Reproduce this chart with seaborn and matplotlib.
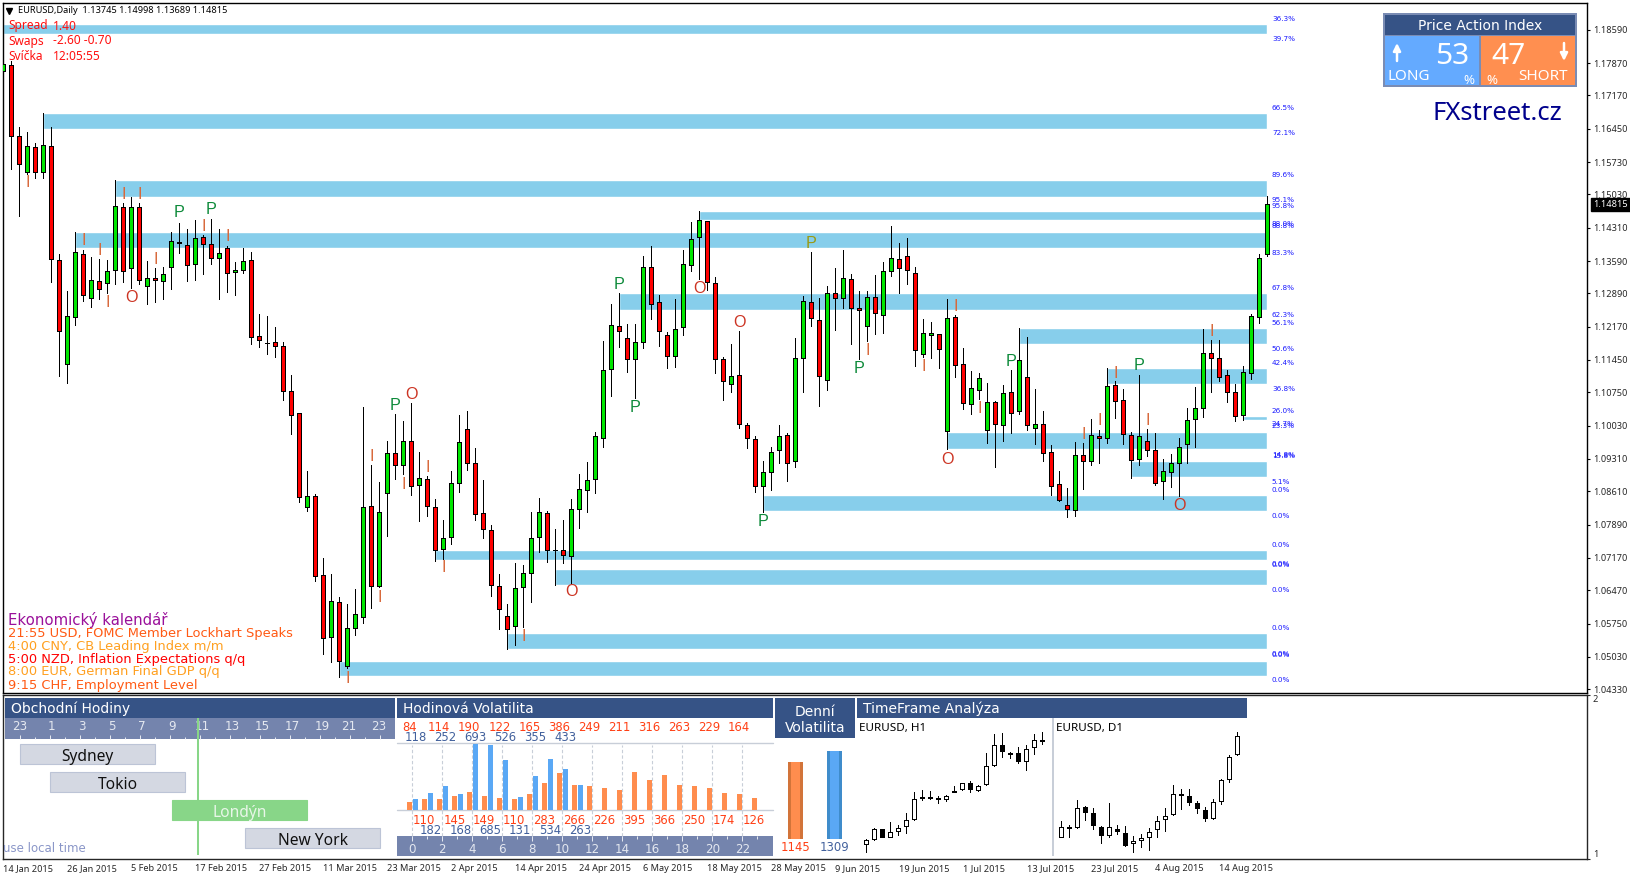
#-----------------------------------------------------------------
# Required Python Packages
#-----------------------------------------------------------------
import matplotlib
matplotlib.use("Agg")
import matplotlib.pyplot as plt
from matplotlib.patches import Rectangle
import pandas as pd
import seaborn as sns

#-----------------------------------------------------------------
# Main chart data : EURUSD daily candles (pips)
#-----------------------------------------------------------------
OPEN_PIPS = [
    11769,11783,11629,11551,11605,11551,11608,11361,11137,11238,
    11374,11279,11316,11312,11340,11476,11344,11476,11305,11322,
    11316,11346,11398,11394,11353,11411,11396,11366,11387,11335,
    11340,11361,11197,11182,11184,11175,11078,11030,10827,10851,
    10680,10546,10622,10483,10565,10589,10829,10656,10857,10943,
    10917,10969,10874,10887,10827,10736,10762,10879,10995,10922,
    10814,10777,10656,10591,10570,10654,10684,10762,10814,10734,
    10734,10721,10823,10864,10887,10976,11126,11219,11193,11147,
    11184,11346,11271,11199,11154,11217,11351,11411,11445,11312,
    11147,11094,11113,11004,10974,10872,10903,10950,10982,10926,
    11149,11271,11232,11102,11290,11279,11320,11258,11219,11281,
    11242,11338,11363,11370,11333,11158,11199,11201,10991,11238,
    11137,11050,11080,10993,11054,11004,11076,11034,11109,10997,
    11006,10945,10876,10831,10820,10939,10926,10980,10976,11091,
    11058,10982,10930,10969,10950,10883,10903,10922,10963,11017,
    11041,11160,11149,11113,11076,11026,11117,11238,11374]
HIGH_PIPS = [
    11845,11791,11649,11638,11614,11679,11649,11374,11294,11422,
    11383,11368,11363,11361,11534,11485,11497,11485,11359,11344,
    11346,11422,11441,11428,11448,11415,11450,11428,11392,11357,
    11387,11379,11245,11240,11217,11184,11113,11030,10905,10855,
    10717,10682,10632,10617,10650,11043,10917,10881,10969,11028,
    11013,11052,10947,10894,10844,10799,10905,11026,11034,10954,
    10885,10788,10682,10617,10706,10702,10816,10846,10818,10779,
    10799,10844,10899,10924,10989,11186,11266,11290,11223,11223,
    11370,11392,11285,11206,11277,11383,11443,11467,11445,11324,
    11152,11180,11208,11008,10980,10926,10956,11004,10987,11193,
    11283,11379,11279,11305,11344,11383,11331,11294,11294,11329,
    11357,11435,11398,11409,11346,11233,11227,11201,11277,11242,
    11171,11121,11117,11096,11056,11091,11124,11214,11195,11082,
    11034,10961,10905,10868,10967,10965,11017,10993,11128,11099,
    11082,10989,11113,10995,10987,10932,10941,10976,11041,11087,
    11212,11189,11189,11124,11094,11132,11245,11374,11500]
LOW_PIPS = [
    11724,11558,11456,11547,11538,11538,11314,11111,11096,11221,
    11273,11260,11277,11290,11310,11314,11301,11310,11266,11271,
    11277,11299,11376,11316,11318,11331,11353,11277,11292,11285,
    11333,11180,11173,11158,11152,11058,10984,10838,10818,10667,
    10509,10492,10460,10479,10550,10576,10609,10654,10764,10887,
    10899,10853,10797,10807,10710,10714,10747,10859,10907,10799,
    10760,10634,10563,10520,10529,10568,10622,10730,10708,10658,
    10706,10663,10782,10816,10857,10956,11067,11173,11119,11063,
    11171,11233,11175,11128,11130,11199,11338,11320,11296,11117,
    11058,11076,10997,10954,10859,10816,10864,10922,10883,10913,
    11076,11219,11045,11080,11210,11258,11180,11147,11186,11201,
    11203,11327,11290,11310,11132,11152,11149,11128,10952,11109,
    11039,11028,11061,10965,10913,10969,10987,11028,10993,10963,
    10926,10853,10840,10805,10807,10866,10917,10922,10965,11019,
    10963,10889,10917,10937,10874,10844,10870,10851,10922,10956,
    11021,11076,11099,11054,11013,11015,11104,11225,11369]
CLOSE_PIPS = [
    11785,11629,11569,11608,11551,11610,11363,11208,11240,11379,
    11285,11318,11299,11338,11478,11338,11476,11318,11322,11318,
    11331,11402,11400,11351,11409,11396,11366,11376,11333,11340,
    11359,11195,11189,11182,11175,11078,11026,10848,10851,10678,
    10544,10624,10494,10565,10596,10827,10656,10816,10943,10917,
    10969,10872,10889,10829,10734,10760,10879,10967,10922,10812,
    10779,10658,10607,10563,10652,10684,10760,10816,10734,10734,
    10723,10823,10866,10885,10980,11124,11221,11208,11147,11184,
    11346,11266,11208,11154,11212,11353,11407,11448,11314,11147,
    11099,11111,11006,10976,10872,10903,10945,10980,10922,11149,
    11273,11236,11111,11290,11279,11322,11258,11253,11281,11247,
    11338,11366,11344,11340,11167,11203,11203,11169,11236,11134,
    11052,11084,11106,11054,11006,11074,11030,11145,11004,11006,
    10943,10872,10842,10823,10939,10926,10982,10976,11089,11056,
    10984,10928,10980,10950,10879,10905,10922,10956,11015,11041,
    11160,11149,11109,11076,11024,11119,11240,11366,11482]

PRICE_TICKS = [1.18590,1.17870,1.17170,1.16450,1.15730,1.15030,1.14310,
               1.13590,1.12890,1.12170,1.11450,1.10750,1.10030,1.09310,
               1.08610,1.07890,1.07170,1.06470,1.05750,1.05030,1.04330]
LAST_PRICE = 1.14815

DATE_LABELS = ["14 Jan 2015","26 Jan 2015","5 Feb 2015","17 Feb 2015","27 Feb 2015",
               "11 Mar 2015","23 Mar 2015","2 Apr 2015","14 Apr 2015","24 Apr 2015",
               "6 May 2015","18 May 2015","28 May 2015","9 Jun 2015","19 Jun 2015",
               "1 Jul 2015","13 Jul 2015","23 Jul 2015","4 Aug 2015","14 Aug 2015"]

# Supply / demand zones : first candle, upper and lower price
ZONE_START = [0,5,14,9,87,77,127,138,155,118,141,95,54,69,63,42]
ZONE_TOP = [11871,11679,11534,11422,11467,11290,11214,11128,
            11024,10989,10926,10853,10734,10693,10555,10494]
ZONE_BOTTOM = [11850,11644,11497,11387,11448,11253,11180,11094,
               11015,10952,10892,10818,10712,10658,10520,10461]

ZONE_PCT_TEXT = ["36.3%","39.7%","66.5%","72.1%","89.6%","95.1%","95.8%","88.0%","88.8%",
                 "83.3%","67.8%","62.3%","56.1%","50.6%","42.4%","36.8%","26.0%","24.7%",
                 "23.3%","14.8%","15.8%","5.1%","0.0%","0.0%","0.0%","0.0%","0.0%","0.0%",
                 "0.0%","0.0%","0.0%","0.0%"]
ZONE_PCT_PIPS = [11882,11839,11690,11635,11546,11491,11478,11438,11435,
                 11376,11301,11242,11225,11169,11139,11082,11034,11006,
                 11002,10939,10937,10881,10864,10807,10745,10704,10702,10648,
                 10565,10509,10507,10453]

# Price action letters : kind, candle, price
MARK_KIND = ["I","I","I","P","P","I","I","I","I","I","I","O",
             "P","O","I","I","I","I","I","I","O","I",
             "P","P","O","O","P","P",
             "I","I","P","I","P","O","I","I","P","I","I","I","O","I"]
MARK_CANDLE = [3,15,17,22,26,25,28,10,12,19,13,16,
               49,51,46,50,47,43,53,55,71,65,
               77,79,87,92,95,101,
               119,108,107,115,126,118,122,139,142,143,137,135,147,151]
MARK_PIPS = [11531,11506,11506,11467,11473,11437,11415,11407,11385,11366,11273,11283,
             11050,11074,10939,10879,10634,10460,10915,10700,10648,10550,
             11312,11045,11303,11229,10799,11400,
             11264,11169,11130,11134,11145,10932,11043,11119,11137,11017,11017,10987,10834,11210]
OLIVE_MARKS = [101]

#-----------------------------------------------------------------
# Hourly and daily volatility
#-----------------------------------------------------------------
HOUR_DOWN = [84,110,114,145,190,149,122,110,165,283,386,266,
             249,226,211,395,316,366,263,250,229,174,164,126]
HOUR_UP = [118,182,252,168,693,685,526,131,355,534,433,263]
DAY_NAMES = ["down","up"]
DAY_VALUES = [1145,1309]

#-----------------------------------------------------------------
# Trading sessions : hours counted from the 23 on the clock strip
#-----------------------------------------------------------------
SESSION_NAMES = ["Sydney","Tokio","Londýn","New York"]
SESSION_START = [0,2,10.13,15]
SESSION_LENGTH = [9,9,9,9]
CURRENT_HOUR = 11.87
CLOCK_LABELS = ["23","1","3","5","7","9","11","13","15","17","19","21","23"]
CLOCK_SPOTS = [0,2.13,4.13,6.13,8.13,10.13,12.13,14.13,16.13,18.13,20.13,21.93,23.93]

#-----------------------------------------------------------------
# Small H1 and D1 candle charts, relative levels
#-----------------------------------------------------------------
H1_OPEN = [37,52,82,58,76,91,112,178,178,175,174,196,202,220,201,217,274,334,310,310,286,328,349]
H1_HIGH = [52,85,82,104,95,130,194,199,196,181,184,211,220,226,214,310,367,371,314,328,334,367,373]
H1_LOW = [14,51,58,58,65,71,111,169,174,161,168,193,199,195,196,216,273,299,296,282,260,308,339]
H1_CLOSE = [49,82,58,73,86,109,172,175,175,172,183,193,220,204,211,271,334,316,307,288,322,349,346]

D1_OPEN = [60,88,88,148,130,88,64,82,70,40,49,58,82,112,127,187,181,160,139,115,166,232,307]
D1_HIGH = [107,94,169,151,145,91,160,94,92,61,67,85,121,145,214,202,202,166,148,172,232,304,373]
D1_LOW = [58,60,85,110,84,41,58,67,33,14,30,20,59,77,125,143,156,131,108,113,159,225,304]
D1_CLOSE = [88,85,145,133,94,64,88,76,34,46,55,73,106,121,187,184,163,145,115,163,229,298,361]

#-----------------------------------------------------------------
# Colours and fonts
#-----------------------------------------------------------------
NAVY = "#365386"
STRIP = "#7484ad"
ZONE_BLUE = "#87ceeb"
BAR_ORANGE = "#ff8d4e"
BAR_ORANGE_DARK = "#d2743a"
BAR_BLUE = "#5aa8f5"
BAR_BLUE_DARK = "#3f8ccb"
LABEL_ORANGE = "#ff3f14"
LABEL_BLUE = "#41609c"
SESSION_GREY = "#d4d8e2"
SESSION_EDGE = "#bcc4d6"
SESSION_GREEN = "#88d688"
GRID_GREY = "#c8ced8"
MARK_COLORS = {"P": "#0d8a3a", "O": "#cc3322", "I": "#d8683a"}

UI_FONT = "Noto Sans"
WIDE_FONT = "DejaVu Sans"

FIG_W = 1630
FIG_H = 877

# Candle 0 sits 3.3 px from the left, one candle every 8 px
CANDLE_STEP = 8.0
CANDLE_ZERO = 3.3


#-----------------------------------------------------------------
# Function Name : pixel_axes
# Description   : Add an axes given its pixel box in the picture
#-----------------------------------------------------------------
def pixel_axes(fig, left, top, right, bottom, zorder=1):
    ax = fig.add_axes([left / FIG_W, 1 - bottom / FIG_H,
                       (right - left) / FIG_W, (bottom - top) / FIG_H], zorder=zorder)
    return ax


#-----------------------------------------------------------------
# Function Name : candle_frame
# Description   : Build a table of candles from four plain lists
#-----------------------------------------------------------------
def candle_frame(opens, highs, lows, closes, scale=1.0):
    return pd.DataFrame({"open": opens, "high": highs, "low": lows, "close": closes}) / scale


#-----------------------------------------------------------------
# Function Name : draw_candles
# Description   : Wicks and bodies, sharp edged like the terminal
#-----------------------------------------------------------------
def draw_candles(ax, frame, up_color, down_color):
    ax.vlines(frame.index, frame["low"], frame["high"], color="black",
              linewidth=0.72, antialiased=False, zorder=3)
    rising = frame["close"] >= frame["open"]
    colors = [up_color if r else down_color for r in rising]
    ax.bar(frame.index, (frame["close"] - frame["open"]).abs(),
           bottom=frame[["open", "close"]].min(axis=1), width=0.5, color=colors,
           edgecolor="black", linewidth=0.7, antialiased=False, zorder=4)


#-----------------------------------------------------------------
# Function Name : draw_main_chart
#-----------------------------------------------------------------
def draw_main_chart(fig):
    ax = pixel_axes(fig, 3, 3, 1587, 693.3)
    candles = candle_frame(OPEN_PIPS, HIGH_PIPS, LOW_PIPS, CLOSE_PIPS, 10000.0)

    last_candle = len(candles) - 1
    for start, top, bottom in zip(ZONE_START, ZONE_TOP, ZONE_BOTTOM):
        ax.barh(bottom / 10000.0, last_candle - start, height=(top - bottom) / 10000.0,
                left=start, align="edge", color=ZONE_BLUE, zorder=1)

    draw_candles(ax, candles, "#00e600", "#ff0000")

    for kind, candle, pips in zip(MARK_KIND, MARK_CANDLE, MARK_PIPS):
        color = "#9a9a14" if candle in OLIVE_MARKS else MARK_COLORS[kind]
        # Letters hang about a pixel under the centre of their box
        ax.text(candle, (pips - 3) / 10000.0, kind, color=color, family="Liberation Sans",
                fontsize=11.6, ha="center", va="center", zorder=5)

    for label, pips in zip(ZONE_PCT_TEXT, ZONE_PCT_PIPS):
        ax.text(last_candle + 0.58, pips / 10000.0, label, color="#1a1aff",
                family=WIDE_FONT, fontsize=5.2, ha="left", va="center", zorder=5)

    ax.set_xlim((3 - CANDLE_ZERO) / CANDLE_STEP, (1587 - CANDLE_ZERO) / CANDLE_STEP)
    ax.set_ylim(1.04244, 1.19168)
    ax.set_xticks([])
    ax.yaxis.tick_right()
    ax.set_yticks(PRICE_TICKS)
    ax.set_yticklabels([f"{p:.5f}" for p in PRICE_TICKS], family=UI_FONT, fontsize=6.6)
    ax.tick_params(axis="y", length=2, width=0.8, pad=2.2, color="black")

    ax.text(1.0042, LAST_PRICE, f"{LAST_PRICE:.5f}", color="white", family=UI_FONT,
            fontsize=6.6, va="center", ha="left", transform=ax.get_yaxis_transform(),
            bbox=dict(facecolor="black", edgecolor="black", pad=1.6), zorder=6, clip_on=False)

    for spine in ax.spines.values():
        spine.set_linewidth(1.0)
        spine.set_color("black")


#-----------------------------------------------------------------
# Function Name : draw_lower_frame
# Description   : Empty indicator window which carries the dates
#-----------------------------------------------------------------
def draw_lower_frame(fig):
    ax = pixel_axes(fig, 3, 695, 1587, 859)
    ax.set_xlim((3 - CANDLE_ZERO) / CANDLE_STEP, (1587 - CANDLE_ZERO) / CANDLE_STEP)
    ax.set_ylim(1, 2)

    ax.set_xticks([8 * k for k in range(len(DATE_LABELS))])
    ax.set_xticklabels(DATE_LABELS, family=UI_FONT, fontsize=6.6, ha="left")
    ax.tick_params(axis="x", length=2, width=0.8, pad=1.5)

    ax.yaxis.tick_right()
    ax.set_yticks([1, 2])
    ax.set_yticklabels(["1", "2"], family=UI_FONT, fontsize=6.6)
    ax.get_yticklabels()[0].set_va("bottom")
    ax.get_yticklabels()[1].set_va("top")
    ax.tick_params(axis="y", length=2, width=0.8, pad=2.2)
    for spine in ax.spines.values():
        spine.set_linewidth(1.0)


#-----------------------------------------------------------------
# Function Name : draw_panels
# Description   : Title bars, clock strips and the index box
#-----------------------------------------------------------------
def draw_panels(fig):
    ax = pixel_axes(fig, 0, 0, FIG_W, FIG_H, zorder=2)
    ax.set_xlim(0, FIG_W)
    ax.set_ylim(FIG_H, 0)
    ax.set_axis_off()

    def box(left, top, right, bottom, color, **kws):
        ax.add_patch(Rectangle((left, top), right - left, bottom - top, facecolor=color,
                               edgecolor=kws.pop("edgecolor", "none"), **kws))

    box(5, 698, 395, 718, NAVY)
    box(5, 718, 395, 739, STRIP)
    box(397, 698, 773, 718, NAVY)
    box(397, 836, 773, 856, STRIP)
    box(775, 698, 855, 738, NAVY)
    box(857, 698, 1247, 718, NAVY)
    box(1052, 718, 1054, 856, GRID_GREY)

    title = dict(color="white", family=WIDE_FONT, fontsize=10, va="center", fontweight="medium")
    ax.text(11, 709, "Obchodní Hodiny", **title)
    ax.text(403, 709, "Hodinová Volatilita", **title)
    ax.text(863, 709, "TimeFrame Analýza", **title)
    ax.text(815, 711.5, "Denní", ha="center", **title)
    ax.text(815, 727.5, "Volatilita", ha="center", **title)

    ax.text(3, 849, "use local time", color="#8a96c8", family=WIDE_FONT, fontsize=8.5, va="center")
    ax.text(859, 729, "EURUSD, H1", color="black", family=UI_FONT, fontsize=8.4, va="center")
    ax.text(1056, 729, "EURUSD, D1", color="black", family=UI_FONT, fontsize=8.4, va="center")

    # Chart header and terminal info
    ax.plot([9], [10.5], marker="v", color="black", markersize=4.5)
    ax.text(18, 10.5, "EURUSD,Daily  1.13745 1.14998 1.13689 1.14815", color="black",
            family=UI_FONT, fontsize=6.6, va="center")
    info = dict(color="#ff1010", family=UI_FONT, fontsize=8.6, va="center")
    ax.text(8, 26, "Spread", **info)
    ax.text(53, 26, "1.40", **info)
    ax.text(8, 41, "Swaps", **info)
    ax.text(53, 41, "-2.60 -0.70", **info)
    ax.text(8, 56, "Svíčka", **info)
    ax.text(53, 56, "12:05:55", **info)

    # Economic calendar
    ax.text(8, 620, "Ekonomický kalendář", color="#9a109a", family=WIDE_FONT, fontsize=10.7, va="center")
    calendar = [("21:55 USD, FOMC Member Lockhart Speaks", "#ff5a14", 633),
                ("4:00 CNY, CB Leading Index m/m", "#ffa020", 646.2),
                ("5:00 NZD, Inflation Expectations q/q", "#ff0000", 659),
                ("8:00 EUR, German Final GDP q/q", "#ffa020", 672),
                ("9:15 CHF, Employment Level", "#ff5a14", 685)]
    for text, color, y in calendar:
        ax.text(8, y, text, color=color, family=WIDE_FONT, fontsize=9.4, va="center")

    # Price Action Index box
    box(1383, 13, 1577, 87, "#7a8cb4")
    box(1385, 15, 1575, 35, NAVY)
    box(1385, 36, 1479, 85, "#64aaff")
    box(1481, 36, 1575, 85, "#ff8f50")
    ax.text(1480, 26, "Price Action Index", color="white", family=WIDE_FONT, fontsize=10,
            ha="center", va="center")
    big = dict(color="white", family=UI_FONT, fontsize=21.5, ha="center", va="center")
    ax.text(1452, 56, "53", **big)
    ax.text(1508, 56, "47", **big)
    small = dict(color="white", family=UI_FONT, fontsize=11, ha="center", va="center")
    ax.text(1409, 77, "LONG", **small)
    ax.text(1543, 77, "SHORT", **small)
    pct = dict(color="white", family=UI_FONT, fontsize=9.5, ha="center", va="center")
    ax.text(1469, 80, "%", **pct)
    ax.text(1492, 80, "%", **pct)
    arrow = dict(arrowstyle="-|>", color="white", lw=1.8, mutation_scale=11, shrinkA=0, shrinkB=0)
    ax.annotate("", xy=(1397, 43), xytext=(1397, 61), arrowprops=arrow)
    ax.annotate("", xy=(1564, 61), xytext=(1564, 43), arrowprops=arrow)
    ax.text(1497, 113, "FXstreet.cz", color="#00008c", family=UI_FONT, fontsize=18.5,
            ha="center", va="center")
    return ax


#-----------------------------------------------------------------
# Function Name : draw_sessions
# Description   : Bars of the trading sessions and the clock strip
#-----------------------------------------------------------------
def draw_sessions(fig):
    ax = pixel_axes(fig, 5, 740, 395, 852, zorder=3)
    rows = list(range(len(SESSION_NAMES)))
    for row, name, start, length in zip(rows, SESSION_NAMES, SESSION_START, SESSION_LENGTH):
        active = name == "Londýn"
        ax.barh(row, length, left=start, height=0.71,
                color=SESSION_GREEN if active else SESSION_GREY,
                edgecolor=SESSION_GREEN if active else SESSION_EDGE, linewidth=0.8)
        ax.text(start + length / 2, row + 0.1, name, color="#e8f6e8" if active else "#111111",
                family=UI_FONT, fontsize=11.2, ha="center", va="center")
    ax.set_xlim(-1, 25)
    ax.set_ylim(3.5, -0.5)
    ax.set_axis_off()

    strip = ax.get_xaxis_transform()
    for hour in range(25):
        ax.vlines(hour, 1.009, 1.045 if hour % 2 == 0 else 1.027, color="#e4e8f0",
                  linewidth=0.72, transform=strip, clip_on=False)
    for spot, label in zip(CLOCK_SPOTS, CLOCK_LABELS):
        ax.text(spot, 1.12, label, color="#e4e8f0", family=WIDE_FONT, fontsize=8.6,
                ha="center", va="center", transform=strip, clip_on=False)
    ax.vlines(CURRENT_HOUR, -0.027, 1.196, color=SESSION_GREEN, linewidth=1.45,
              transform=strip, clip_on=False, zorder=5)


#-----------------------------------------------------------------
# Function Name : draw_hour_volatility
#-----------------------------------------------------------------
def draw_hour_volatility(fig):
    ax = pixel_axes(fig, 397, 743.3, 773, 810, zorder=3)
    rows = [{"hour": h, "side": "down", "range": v} for h, v in enumerate(HOUR_DOWN)]
    rows += [{"hour": h, "side": "up", "range": v} for h, v in enumerate(HOUR_UP)]
    volatility = pd.DataFrame(rows)

    sns.barplot(data=volatility, x="hour", y="range", hue="side", hue_order=["down", "up"],
                palette={"down": BAR_ORANGE, "up": BAR_BLUE}, width=0.8, gap=0.17,
                errorbar=None, legend=False, saturation=1, linewidth=0, zorder=3, ax=ax)
    ax.set_xlim(-1.02, 24.05)
    ax.set_ylim(0, 698)
    ax.set_axis_off()

    ax.axhline(0, color=GRID_GREY, linewidth=1.0, zorder=2, clip_on=False)
    ax.axhline(698, color=GRID_GREY, linewidth=1.0, zorder=2, clip_on=False)

    hours = list(range(24))
    frac = ax.get_xaxis_transform()
    ax.vlines(hours[::2], -0.388, 0.97, color=GRID_GREY, linewidth=0.8,
              linestyles=(0, (3, 2)), transform=frac, clip_on=False, zorder=1)

    number = dict(family=WIDE_FONT, fontsize=8.4, ha="center", va="center",
                  transform=frac, clip_on=False)
    for hour, value in enumerate(HOUR_DOWN):
        y = 1.233 if hour % 2 == 0 else -0.161
        ax.text(hour - 0.2, y, str(value), color=LABEL_ORANGE, **number)
    for hour, value in enumerate(HOUR_UP):
        y = 1.083 if hour % 2 == 0 else -0.31
        ax.text(hour + 0.2, y, str(value), color=LABEL_BLUE, **number)

    for hour in hours:
        ax.vlines(hour, -0.388, -0.46 if hour % 2 == 0 else -0.43, color="#e4e8f0",
                  linewidth=0.72, transform=frac, clip_on=False, zorder=4)
    for hour in hours[::2]:
        ax.text(hour, -0.595, str(hour), color="#e4e8f0", family=WIDE_FONT, fontsize=8.6,
                ha="center", va="center", transform=frac, clip_on=False)


#-----------------------------------------------------------------
# Function Name : draw_day_volatility
#-----------------------------------------------------------------
def draw_day_volatility(fig):
    ax = pixel_axes(fig, 775, 745, 855, 839, zorder=3)
    daily = pd.DataFrame({"side": DAY_NAMES, "range": DAY_VALUES})

    sns.barplot(data=daily, x="side", y="range", hue="side", legend=False, saturation=1,
                palette={"down": BAR_ORANGE_DARK, "up": BAR_BLUE_DARK}, width=0.385,
                errorbar=None, linewidth=0, ax=ax)
    sns.barplot(data=daily, x="side", y="range", hue="side", legend=False, saturation=1,
                palette={"down": BAR_ORANGE, "up": BAR_BLUE}, width=0.22,
                errorbar=None, linewidth=0, ax=ax)
    ax.set_xlim(-0.526, 1.526)
    ax.set_ylim(0, 1403)
    ax.set_axis_off()

    frac = ax.get_xaxis_transform()
    ax.text(0, -0.09, str(DAY_VALUES[0]), color=LABEL_ORANGE, family=WIDE_FONT, fontsize=8.4,
            ha="center", va="center", transform=frac, clip_on=False)
    ax.text(1, -0.09, str(DAY_VALUES[1]), color=LABEL_BLUE, family=WIDE_FONT, fontsize=8.4,
            ha="center", va="center", transform=frac, clip_on=False)


#-----------------------------------------------------------------
# Function Name : draw_mini_chart
# Description   : One small white and black candle chart
#-----------------------------------------------------------------
def draw_mini_chart(fig, left, right, first_x, opens, highs, lows, closes):
    ax = pixel_axes(fig, left, 718, right, 856, zorder=3)
    frame = candle_frame(opens, highs, lows, closes)
    draw_candles(ax, frame, "white", "black")
    ax.set_xlim((left - first_x) / CANDLE_STEP, (right - first_x) / CANDLE_STEP)
    ax.set_ylim(2, 416)
    ax.set_axis_off()


#-----------------------------------------------------------------
# Function Name : main
#-----------------------------------------------------------------
def main():
    sns.set_theme(style="white")
    plt.rcParams["font.family"] = [WIDE_FONT]
    plt.rcParams["text.color"] = "black"

    fig = plt.figure(figsize=(FIG_W / 100, FIG_H / 100), dpi=100, facecolor="white")

    draw_main_chart(fig)
    draw_lower_frame(fig)
    draw_panels(fig)
    draw_sessions(fig)
    draw_hour_volatility(fig)
    draw_day_volatility(fig)
    draw_mini_chart(fig, 857, 1052, 866.33, H1_OPEN, H1_HIGH, H1_LOW, H1_CLOSE)
    draw_mini_chart(fig, 1054, 1250, 1061.33, D1_OPEN, D1_HIGH, D1_LOW, D1_CLOSE)

    fig.savefig("out.png", dpi=100, facecolor="white")


#-----------------------------------------------------------------
# Application starter
#-----------------------------------------------------------------
if __name__ == "__main__":
    main()
